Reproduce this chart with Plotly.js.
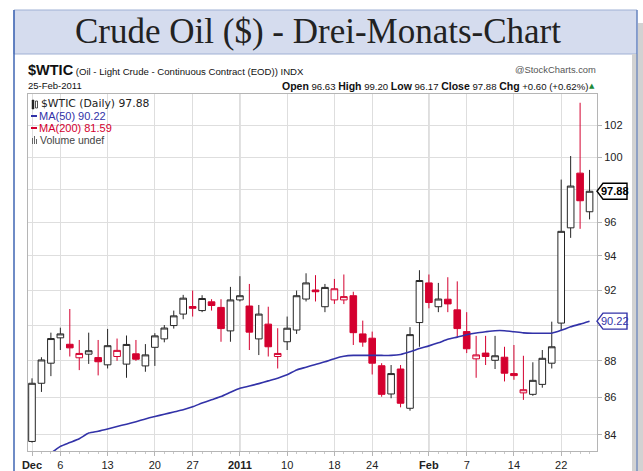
<!DOCTYPE html>
<html>
<head>
<meta charset="utf-8">
<script src="https://cdn.plot.ly/plotly-3.0.1.min.js"></script>
<style>
html,body{margin:0;padding:0;background:#fff;}
#chart{width:643px;height:471px;}
</style>
</head>
<body>
<div id="chart"></div>
<script>
// ---- data ----
// trading-day index 0 = 1-Dec-2010 ... 59 = 25-Feb-2011
const tickIdx   = [0, 3, 8, 13, 17, 22, 27, 32, 36, 42, 46, 51, 56];
const tickLabels = ['<b>Dec</b>', '6', '13', '20', '27', '<b>2011</b>', '10', '18', '24', '<b>Feb</b>', '7', '14', '22'];

const openP = [
  83.66, 86.77, 87.87, 89.28, 88.92, 88.17, 88.37, 88.18, 87.78, 88.24,
  87.82, 88.39, 87.72, 88.75, 89.22, 89.97, 90.62, 91.05, 90.82, 91.32,
  91.00, 89.67, 91.43, 91.08, 89.22, 90.05, 88.24, 89.06, 89.72, 91.48,
  92.00, 91.04, 91.43, 91.43, 91.67, 89.50, 89.26, 87.73, 86.19, 87.55,
  85.42, 90.14, 92.41, 91.04, 91.47, 90.86, 89.63, 88.11, 88.43, 88.03,
  88.20, 87.30, 86.25, 86.17, 86.71, 87.87, 90.11, 95.66, 99.00, 96.63
];
const highP = [
  87.04, 88.20, 89.57, 89.85, 90.91, 89.16, 89.57, 89.16, 89.78, 89.24,
  89.41, 89.16, 88.93, 89.54, 90.00, 90.82, 91.72, 91.97, 91.70, 91.47,
  91.47, 92.18, 92.80, 92.35, 91.14, 91.04, 89.82, 90.48, 91.97, 92.97,
  92.86, 92.35, 92.64, 92.90, 91.90, 90.25, 89.63, 87.87, 87.77, 87.77,
  89.88, 93.15, 92.90, 92.41, 92.74, 92.50, 90.73, 89.39, 89.39, 89.39,
  88.78, 88.88, 88.28, 87.92, 88.60, 90.19, 98.60, 100.07, 103.47, 99.20
];
const lowP = [
  83.60, 86.30, 87.16, 88.60, 88.24, 87.49, 87.83, 87.20, 87.58, 88.00,
  87.07, 88.00, 87.40, 87.72, 89.03, 89.80, 90.33, 90.48, 90.73, 90.82,
  89.06, 89.06, 91.34, 88.60, 88.32, 88.24, 87.58, 88.60, 89.50, 91.34,
  91.34, 90.73, 91.20, 91.19, 88.88, 88.78, 87.25, 86.04, 85.96, 85.47,
  85.29, 88.78, 90.95, 90.73, 90.73, 89.32, 88.43, 87.07, 87.77, 87.55,
  86.87, 86.96, 85.87, 86.09, 86.53, 87.58, 89.72, 95.06, 95.60, 96.17
];
const closeP = [
  86.77, 88.05, 89.24, 89.50, 88.72, 88.41, 88.56, 87.95, 88.84, 88.58,
  88.91, 88.09, 88.33, 89.39, 89.83, 90.52, 91.53, 90.95, 91.51, 91.11,
  89.80, 91.43, 91.67, 89.60, 90.62, 88.78, 88.41, 89.82, 91.67, 92.41,
  91.90, 92.15, 92.07, 91.62, 89.57, 89.04, 87.87, 86.17, 87.30, 85.69,
  89.46, 92.55, 91.28, 91.48, 91.20, 89.80, 88.67, 88.33, 88.24, 88.28,
  87.32, 87.19, 86.42, 86.93, 88.14, 88.78, 95.45, 98.20, 97.30, 97.88
];
const ma50 = [
  82.60, 82.80, 83.05, 83.40, 83.60, 83.80, 84.10, 84.20, 84.32, 84.45,
  84.57, 84.70, 84.85, 84.98, 85.10, 85.22, 85.34, 85.50, 85.70, 85.88,
  86.05, 86.28, 86.50, 86.62, 86.75, 86.90, 87.05, 87.23, 87.50, 87.65,
  87.80, 87.95, 88.12, 88.25, 88.30, 88.30, 88.30, 88.30, 88.30, 88.35,
  88.50, 88.68, 88.83, 89.00, 89.20, 89.32, 89.45, 89.55, 89.62, 89.68,
  89.68, 89.62, 89.56, 89.54, 89.54, 89.54, 89.70, 89.90, 90.05, 90.22
];
const yTicks = [84, 86, 88, 90, 92, 94, 96, 98, 100, 102];
// labels hidden behind the value tags in the reference
const yTickLabels = ['84', '86', '88', '', '92', '94', '96', '', '100', '102'];

// ---- helpers ----
const W = 643, H = 471;
const PX = x => x / W;
const PY = y => 1 - y / H;
const plotL = 28, plotR = 597, plotT = 94, plotB = 451;
const yMin = 83.16, yMax = 104.04;
const lmin = Math.log10(yMin), lmax = Math.log10(yMax);
const ypx = v => plotT + (lmax - Math.log10(v)) / (lmax - lmin) * (plotB - plotT);

const RED = '#d4002f', BLK = '#262626', BLUE = '#3232a8';
const NARROW = '"Liberation Sans Narrow", "Arial Narrow", "Liberation Sans", Arial, sans-serif';

// split candles: black if close >= previous close, red otherwise
const blk = {x: [], o: [], h: [], l: [], c: []};
const red = {x: [], o: [], h: [], l: [], c: []};
for (let i = 0; i < closeP.length; i++) {
  const t = (i === 0 || closeP[i] >= closeP[i - 1]) ? blk : red;
  t.x.push(i); t.o.push(openP[i]); t.h.push(highP[i]); t.l.push(lowP[i]); t.c.push(closeP[i]);
}
const idx = closeP.map((_, i) => i);

const traces = [
  {
    type: 'scatter', mode: 'lines', x: idx, y: ma50,
    line: {color: BLUE, width: 1.6, shape: 'spline', smoothing: 0.6},
    hoverinfo: 'skip', showlegend: false
  },
  {
    type: 'candlestick', x: blk.x, open: blk.o, high: blk.h, low: blk.l, close: blk.c,
    increasing: {line: {color: BLK, width: 1}, fillcolor: '#ffffff'},
    decreasing: {line: {color: BLK, width: 1}, fillcolor: BLK},
    whiskerwidth: 0, hoverinfo: 'skip', showlegend: false
  },
  {
    type: 'candlestick', x: red.x, open: red.o, high: red.h, low: red.l, close: red.c,
    increasing: {line: {color: RED, width: 1}, fillcolor: '#ffffff'},
    decreasing: {line: {color: RED, width: 1}, fillcolor: RED},
    whiskerwidth: 0, hoverinfo: 'skip', showlegend: false
  }
];

function tagPath(yc, x0, x1) {
  const h = 8, tip = 6;
  const pts = [[x0, yc], [x0 + tip, yc - h], [x1, yc - h], [x1, yc + h], [x0 + tip, yc + h]];
  return 'M' + pts.map(p => PX(p[0]).toFixed(5) + ',' + PY(p[1]).toFixed(5)).join(' L') + ' Z';
}

const lastClose = closeP[closeP.length - 1];
const lastMA = ma50[ma50.length - 1];

const shapes = [
  // title band
  {type: 'rect', xref: 'paper', yref: 'paper', x0: PX(14), x1: PX(637), y0: PY(54), y1: PY(10),
   fillcolor: '#d5dcee', line: {color: '#9fb0d4', width: 1}, layer: 'above'},
  // right grey strip
  {type: 'rect', xref: 'paper', yref: 'paper', x0: PX(632), x1: 1, y0: 0, y1: PY(54),
   fillcolor: '#d2d2d2', line: {width: 0}, layer: 'above'},
  {type: 'rect', xref: 'paper', yref: 'paper', x0: PX(638), x1: 1, y0: PY(54), y1: PY(23),
   fillcolor: '#d2d2d2', line: {width: 0}, layer: 'above'},
  {type: 'line', xref: 'paper', yref: 'paper', x0: PX(637), x1: PX(637), y0: 0, y1: PY(10),
   line: {color: '#4a6fb5', width: 1}, layer: 'above'},
  // left blue border
  {type: 'line', xref: 'paper', yref: 'paper', x0: PX(14), x1: PX(14), y0: 0, y1: PY(10),
   line: {color: '#3f66b3', width: 1.5}, layer: 'above'},
  // darker year / month separators
  {type: 'line', xref: 'x', yref: 'paper', x0: 22, x1: 22, y0: PY(plotB), y1: PY(plotT),
   line: {color: '#b4b4b4', width: 1}, layer: 'below'},
  {type: 'line', xref: 'x', yref: 'paper', x0: 42, x1: 42, y0: PY(plotB), y1: PY(plotT),
   line: {color: '#b4b4b4', width: 1}, layer: 'below'},
  // legend icons
  {type: 'line', xref: 'paper', yref: 'paper', x0: PX(31), x1: PX(37), y0: PY(116), y1: PY(116),
   line: {color: BLUE, width: 2}, layer: 'above'},
  {type: 'line', xref: 'paper', yref: 'paper', x0: PX(31), x1: PX(37), y0: PY(128), y1: PY(128),
   line: {color: RED, width: 2}, layer: 'above'},
  {type: 'rect', xref: 'paper', yref: 'paper', x0: PX(32), x1: PX(34), y0: PY(109), y1: PY(100),
   fillcolor: BLK, line: {color: BLK, width: 0.5}, layer: 'above'},
  {type: 'rect', xref: 'paper', yref: 'paper', x0: PX(35.5), x1: PX(37.5), y0: PY(108), y1: PY(101),
   fillcolor: '#fff', line: {color: BLK, width: 0.8}, layer: 'above'},
  {type: 'rect', xref: 'paper', yref: 'paper', x0: PX(32), x1: PX(33), y0: PY(144), y1: PY(138),
   fillcolor: '#666', line: {width: 0}, layer: 'above'},
  {type: 'rect', xref: 'paper', yref: 'paper', x0: PX(34), x1: PX(35), y0: PY(144), y1: PY(136),
   fillcolor: '#666', line: {width: 0}, layer: 'above'},
  {type: 'rect', xref: 'paper', yref: 'paper', x0: PX(36), x1: PX(37), y0: PY(144), y1: PY(139),
   fillcolor: '#666', line: {width: 0}, layer: 'above'},
  // value tags on the right axis
  {type: 'path', xref: 'paper', yref: 'paper', path: tagPath(ypx(lastClose), 597, 627),
   fillcolor: '#ffffff', line: {color: '#000', width: 1.4}, layer: 'above'},
  {type: 'path', xref: 'paper', yref: 'paper', path: tagPath(ypx(lastMA), 597, 627),
   fillcolor: '#ffffff', line: {color: BLUE, width: 1.4}, layer: 'above'}
];

const annotations = [
  {text: 'Crude Oil ($) - Drei-Monats-Chart', x: PX(318), y: PY(32), xref: 'paper', yref: 'paper',
   xanchor: 'center', yanchor: 'middle', showarrow: false,
   font: {family: '"Liberation Serif", "DejaVu Serif", serif', size: 35, color: '#222'}},
  {text: '<span style="font-size:14.5px"><b>$WTIC</b></span> (Oil - Light Crude - Continuous Contract (EOD)) INDX',
   x: PX(26), y: PY(70), xref: 'paper', yref: 'paper', xanchor: 'left', yanchor: 'middle', showarrow: false,
   font: {family: NARROW, size: 9.6, color: '#111'}},
  {text: '@StockCharts.com', x: PX(598), y: PY(70), xref: 'paper', yref: 'paper',
   xanchor: 'right', yanchor: 'middle', showarrow: false, font: {family: NARROW, size: 9.4, color: '#555'}},
  {text: '25-Feb-2011', x: PX(26), y: PY(86), xref: 'paper', yref: 'paper',
   xanchor: 'left', yanchor: 'middle', showarrow: false, font: {family: NARROW, size: 9.5, color: '#111'}},
  {text: '<b style="font-size:10.5px">Open</b> 96.63 <b style="font-size:10.5px">High</b> 99.20 <b style="font-size:10.5px">Low</b> 96.17 <b style="font-size:10.5px">Close</b> 97.88 <b style="font-size:10.5px">Chg</b> +0.60 (+0.62%)',
   x: PX(590), y: PY(86), xref: 'paper', yref: 'paper', xanchor: 'right', yanchor: 'middle', showarrow: false,
   font: {family: NARROW, size: 9.6, color: '#111'}},
  {text: '▲', x: PX(597), y: PY(86), xref: 'paper', yref: 'paper', xanchor: 'right', yanchor: 'middle',
   showarrow: false, font: {family: 'DejaVu Sans', size: 7, color: '#1d8a3a'}},
  // in-plot legend
  {text: '$WTIC (Daily) 97.88', x: PX(39), y: PY(104), xref: 'paper', yref: 'paper', xanchor: 'left',
   yanchor: 'middle', showarrow: false, font: {family: '"DejaVu Sans", sans-serif', size: 10.8, color: '#222'}},
  {text: 'MA(50) 90.22', x: PX(37), y: PY(116), xref: 'paper', yref: 'paper', xanchor: 'left',
   yanchor: 'middle', showarrow: false, font: {family: NARROW, size: 11, color: BLUE}},
  {text: 'MA(200) 81.59', x: PX(37), y: PY(128), xref: 'paper', yref: 'paper', xanchor: 'left',
   yanchor: 'middle', showarrow: false, font: {family: NARROW, size: 11, color: RED}},
  {text: 'Volume undef', x: PX(38), y: PY(140), xref: 'paper', yref: 'paper', xanchor: 'left',
   yanchor: 'middle', showarrow: false, font: {family: NARROW, size: 10.5, color: '#444'}},
  // value tag texts
  {text: '<b>' + lastClose.toFixed(2) + '</b>', x: PX(615), y: PY(ypx(lastClose)), xref: 'paper', yref: 'paper',
   xanchor: 'center', yanchor: 'middle', showarrow: false, font: {family: NARROW, size: 11, color: '#000'}},
  {text: lastMA.toFixed(2), x: PX(615), y: PY(ypx(lastMA)), xref: 'paper', yref: 'paper',
   xanchor: 'center', yanchor: 'middle', showarrow: false, font: {family: NARROW, size: 11, color: BLUE}}
];

const layout = {
  width: W, height: H,
  margin: {l: 0, r: 0, t: 0, b: 0, pad: 0},
  paper_bgcolor: '#ffffff', plot_bgcolor: '#ffffff',
  showlegend: false, hovermode: false,
  boxmode: 'overlay', boxgap: 0.3, boxgroupgap: 0,
  xaxis: {
    domain: [PX(plotL), PX(plotR)],
    range: [(plotL - 32) / 9.45, (plotR - 32) / 9.45],
    type: 'linear',
    tickmode: 'array', tickvals: tickIdx, ticktext: tickLabels,
    showgrid: true, gridcolor: '#dedede', gridwidth: 1,
    zeroline: false, showline: true, linecolor: '#b5b5b5', linewidth: 1, mirror: true,
    ticks: 'outside', ticklen: 4, tickcolor: '#b5b5b5',
    minor: {tickmode: 'linear', tick0: 0, dtick: 1, ticks: 'outside', ticklen: 2, tickcolor: '#c8c8c8', showgrid: false},
    tickfont: {family: NARROW, size: 11, color: '#222'},
    rangeslider: {visible: false},
    fixedrange: true
  },
  yaxis: {
    domain: [PY(plotB), PY(plotT)],
    type: 'log', side: 'right',
    range: [lmin, lmax],
    tickmode: 'array', tickvals: yTicks, ticktext: yTickLabels,
    showgrid: true, gridcolor: '#dedede', gridwidth: 1,
    zeroline: false, showline: true, linecolor: '#b5b5b5', linewidth: 1, mirror: true,
    ticks: 'outside', ticklen: 4, tickcolor: '#b5b5b5',
    tickfont: {family: NARROW, size: 11, color: '#222'},
    fixedrange: true
  },
  shapes: shapes,
  annotations: annotations
};

Plotly.newPlot('chart', traces, layout, {staticPlot: true, displayModeBar: false});
</script>
</body>
</html>
